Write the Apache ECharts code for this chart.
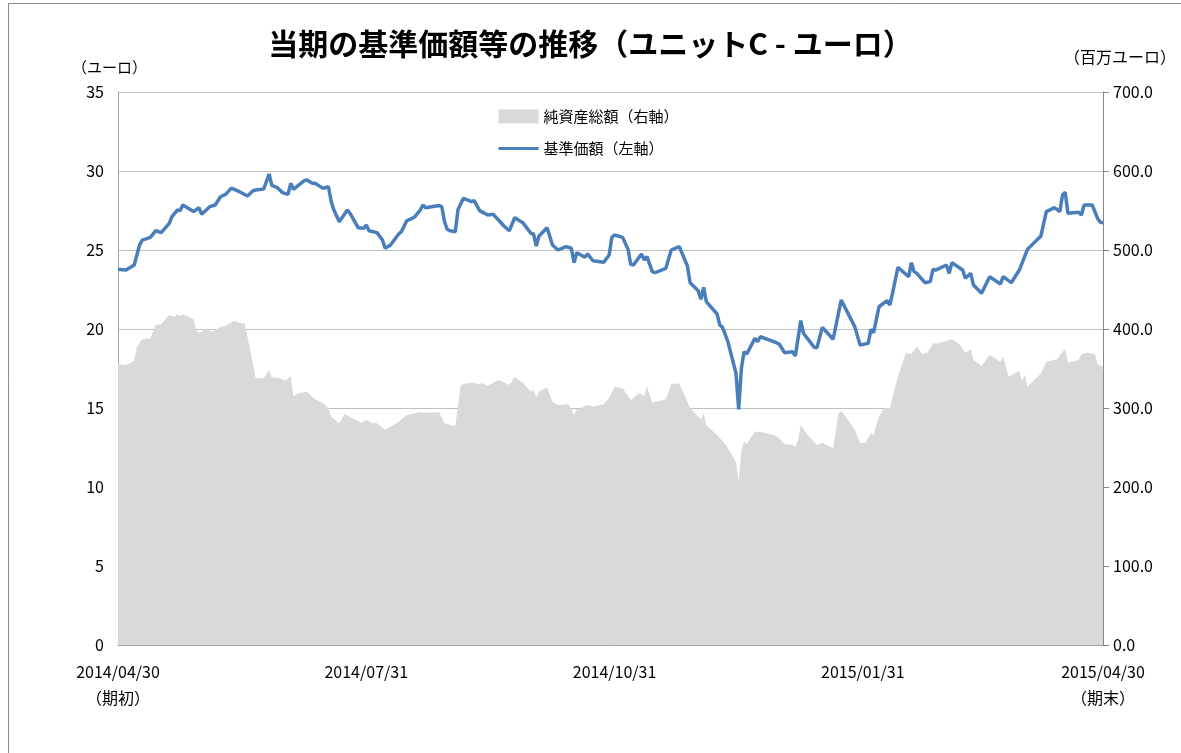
<!DOCTYPE html>
<html>
<head>
<meta charset="utf-8">
<title>当期の基準価額等の推移</title>
<script src="https://cdn.jsdelivr.net/npm/echarts@6/dist/echarts.min.js"></script>
<style>
  html, body { margin: 0; padding: 0; background: #fff; }
  #chart { width: 1181px; height: 753px; }
</style>
</head>
<body>
<div id="chart"></div>
<script>
// 基準価額（左軸）
var navDates = [
  '2014/04/30','2014/05/03','2014/05/06','2014/05/08','2014/05/09','2014/05/12','2014/05/14','2014/05/16','2014/05/19','2014/05/20','2014/05/22','2014/05/23','2014/05/24','2014/05/28','2014/05/30','2014/05/31',
  '2014/06/03','2014/06/05','2014/06/07','2014/06/09','2014/06/11','2014/06/14','2014/06/17','2014/06/19','2014/06/20','2014/06/23','2014/06/25','2014/06/26','2014/06/28','2014/06/30',
  '2014/07/02','2014/07/03','2014/07/04','2014/07/08','2014/07/09','2014/07/11','2014/07/12','2014/07/15','2014/07/17','2014/07/18','2014/07/19','2014/07/21','2014/07/24','2014/07/25','2014/07/28','2014/07/30','2014/07/31',
  '2014/08/01','2014/08/04','2014/08/06','2014/08/07','2014/08/09','2014/08/12','2014/08/13','2014/08/15','2014/08/17','2014/08/18','2014/08/20','2014/08/21','2014/08/22','2014/08/27','2014/08/28','2014/08/29','2014/08/30','2014/08/31',
  '2014/09/02','2014/09/03','2014/09/05','2014/09/08','2014/09/09','2014/09/11','2014/09/14','2014/09/16','2014/09/18','2014/09/20','2014/09/22','2014/09/24','2014/09/27','2014/09/30',
  '2014/10/01','2014/10/02','2014/10/03','2014/10/06','2014/10/08','2014/10/10','2014/10/13','2014/10/15','2014/10/16','2014/10/17','2014/10/20','2014/10/21','2014/10/23','2014/10/27','2014/10/29','2014/10/30','2014/10/31',
  '2014/11/03','2014/11/05','2014/11/06','2014/11/07','2014/11/10','2014/11/11','2014/11/12','2014/11/14','2014/11/15','2014/11/19','2014/11/21','2014/11/24','2014/11/27','2014/11/28',
  '2014/12/01','2014/12/02','2014/12/03','2014/12/04','2014/12/08','2014/12/09','2014/12/10','2014/12/12','2014/12/15','2014/12/16','2014/12/17','2014/12/18','2014/12/19','2014/12/22','2014/12/23','2014/12/24','2014/12/29','2014/12/31',
  '2015/01/02','2015/01/05','2015/01/06','2015/01/08','2015/01/09','2015/01/13','2015/01/14','2015/01/16','2015/01/20','2015/01/23','2015/01/28','2015/01/30',
  '2015/02/02','2015/02/03','2015/02/04','2015/02/06','2015/02/09','2015/02/10','2015/02/11','2015/02/13','2015/02/17','2015/02/18','2015/02/19','2015/02/20','2015/02/23','2015/02/25','2015/02/26','2015/02/27',
  '2015/03/03','2015/03/04','2015/03/05','2015/03/09','2015/03/10','2015/03/12','2015/03/13','2015/03/16','2015/03/19','2015/03/23','2015/03/24','2015/03/27','2015/03/30',
  '2015/04/02','2015/04/07','2015/04/09','2015/04/12','2015/04/14','2015/04/15','2015/04/16','2015/04/17','2015/04/21','2015/04/22','2015/04/23','2015/04/26','2015/04/28','2015/04/29','2015/04/30'
];
var navValues = [
  23.78, 23.73, 24.05, 25.32, 25.63, 25.8, 26.22, 26.1, 26.69, 27.11, 27.53, 27.49, 27.85, 27.43, 27.68, 27.26,
  27.74, 27.85, 28.37, 28.54, 28.92, 28.69, 28.42, 28.75, 28.8, 28.86, 29.81, 29.09, 28.95, 28.62,
  28.52, 29.22, 28.84, 29.39, 29.43, 29.22, 29.22, 28.9, 29.0, 28.06, 27.53, 26.79, 27.53, 27.32, 26.41, 26.37, 26.58,
  26.22, 26.1, 25.63, 25.11, 25.32, 26.01, 26.16, 26.85, 27.0, 27.11, 27.53, 27.85, 27.68, 27.81, 27.74, 26.79, 26.31, 26.22,
  26.16, 27.57, 28.27, 28.06, 28.12, 27.49, 27.22, 27.26, 26.9, 26.52, 26.22, 27.04, 26.73, 26.06,
  26.01, 25.25, 25.89, 26.41, 25.32, 25.0, 25.21, 25.11, 24.2, 24.83, 24.54, 24.75, 24.32, 24.22, 24.68, 25.8, 25.95,
  25.8, 25.04, 24.09, 24.05, 24.75, 24.37, 24.58, 23.63, 23.56, 23.84, 25.0, 25.21, 23.99, 22.93,
  22.42, 21.88, 22.64, 21.73, 20.95, 20.25, 20.1, 19.2, 17.2, 14.92, 17.51, 18.56, 18.42, 19.41, 19.2, 19.51, 19.2, 19.05,
  18.5, 18.56, 18.29, 20.53, 19.73, 18.84, 18.82, 20.1, 19.35, 21.84, 20.15, 18.99,
  19.09, 19.98, 19.77, 21.41, 21.79, 21.52, 22.26, 23.9, 23.31, 24.2, 23.63, 23.52, 22.93, 23.0, 23.78, 23.73,
  24.05, 23.52, 24.2, 23.73, 23.21, 23.52, 22.78, 22.26, 23.31, 22.85, 23.31, 22.93, 23.73,
  25.04, 25.89, 27.43, 27.68, 27.43, 28.48, 28.65, 27.32, 27.39, 27.22, 27.85, 27.85, 27.0, 26.75, 26.73
];

// 純資産総額（右軸、百万ユーロ）
var assetDates = [
  '2014/04/30','2014/05/03','2014/05/06','2014/05/07','2014/05/09','2014/05/12','2014/05/14','2014/05/16','2014/05/19','2014/05/21','2014/05/22','2014/05/23','2014/05/24','2014/05/28','2014/05/29','2014/05/30',
  '2014/06/02','2014/06/04','2014/06/07','2014/06/09','2014/06/12','2014/06/14','2014/06/16','2014/06/18','2014/06/20','2014/06/23','2014/06/25','2014/06/26','2014/06/29',
  '2014/07/01','2014/07/03','2014/07/04','2014/07/06','2014/07/09','2014/07/12','2014/07/15','2014/07/17','2014/07/18','2014/07/21','2014/07/23','2014/07/29','2014/07/31',
  '2014/08/02','2014/08/04','2014/08/07','2014/08/12','2014/08/15','2014/08/19','2014/08/20','2014/08/21','2014/08/27','2014/08/29','2014/08/31',
  '2014/09/02','2014/09/04','2014/09/06','2014/09/09','2014/09/10','2014/09/12','2014/09/14','2014/09/18','2014/09/22','2014/09/24','2014/09/27','2014/09/30',
  '2014/10/01','2014/10/02','2014/10/03','2014/10/06','2014/10/08','2014/10/10','2014/10/14','2014/10/16','2014/10/17','2014/10/21','2014/10/23','2014/10/27','2014/10/29','2014/10/30','2014/10/31',
  '2014/11/03','2014/11/06','2014/11/09','2014/11/11','2014/11/12','2014/11/14','2014/11/17','2014/11/19','2014/11/21','2014/11/24','2014/11/28',
  '2014/12/02','2014/12/03','2014/12/04','2014/12/08','2014/12/11','2014/12/15','2014/12/16','2014/12/17','2014/12/18','2014/12/19','2014/12/22','2014/12/24','2014/12/29','2014/12/31',
  '2015/01/02','2015/01/05','2015/01/06','2015/01/07','2015/01/08','2015/01/10','2015/01/14','2015/01/16','2015/01/20','2015/01/22','2015/01/23','2015/01/28','2015/01/30',
  '2015/02/01','2015/02/03','2015/02/04','2015/02/06','2015/02/08','2015/02/10','2015/02/11','2015/02/13','2015/02/16','2015/02/18','2015/02/20','2015/02/22','2015/02/24','2015/02/26','2015/02/28',
  '2015/03/02','2015/03/04','2015/03/05','2015/03/08','2015/03/10','2015/03/12','2015/03/13','2015/03/16','2015/03/19','2015/03/23','2015/03/24','2015/03/25','2015/03/26','2015/03/30','2015/03/31',
  '2015/04/01','2015/04/02','2015/04/07','2015/04/09','2015/04/13','2015/04/15','2015/04/16','2015/04/17','2015/04/21','2015/04/22','2015/04/24','2015/04/27','2015/04/28','2015/04/30'
];
var assetValues = [
  355.7, 354.4, 359.5, 377.6, 387.3, 388.2, 405.1, 405.9, 417.7, 415.6, 418.6, 416.5, 418.6, 412.3, 398.7, 394.5,
  400.9, 396.6, 402.9, 404.2, 410.5, 408.0, 406.3, 373.4, 337.6, 337.6, 348.1, 338.9, 337.6,
  334.6, 340.5, 315.2, 318.6, 320.6, 311.0, 305.9, 299.6, 289.0, 280.6, 292.4, 281.4, 284.8,
  281.4, 280.6, 272.2, 282.6, 291.1, 294.1, 295.3, 294.1, 294.6, 280.6, 278.5,
  277.6, 329.1, 331.2, 332.0, 330.0, 331.2, 328.2, 335.4, 329.1, 338.9, 332.0, 320.6,
  322.8, 313.5, 320.6, 326.2, 308.0, 303.8, 304.7, 291.1, 298.4, 303.8, 301.6, 304.7, 312.3, 320.0, 327.0,
  324.9, 310.1, 318.6, 315.2, 327.0, 306.7, 309.3, 311.0, 330.4, 331.2, 299.6,
  285.7, 293.3, 278.5, 265.8, 254.4, 232.0, 206.7, 246.8, 257.3, 254.4, 270.0, 270.0, 265.8, 261.6,
  254.4, 253.2, 250.2, 259.5, 278.5, 268.0, 253.2, 256.0, 249.0, 293.3, 296.6, 273.0, 255.3,
  256.0, 268.0, 265.8, 289.9, 299.6, 299.6, 314.3, 339.6, 370.0, 368.4, 377.6, 368.4, 370.0, 381.9, 381.9,
  383.9, 386.1, 387.3, 379.7, 370.0, 374.3, 360.8, 353.2, 367.1, 358.6, 364.9, 352.3, 339.6, 347.2, 334.6,
  341.8, 327.0, 343.9, 358.6, 361.6, 371.3, 374.3, 357.3, 360.8, 368.0, 370.0, 368.4, 355.7, 352.3
];

var labelDates = ['2014/04/30', '2014/07/31', '2014/10/31', '2015/01/31', '2015/04/30'];
var leftTicks = [0, 35, 5];    // min, max, interval
var rightTicks = [0, 700, 100];

// 毎日のカテゴリ（期初〜期末）
function pad(n) { return n < 10 ? '0' + n : '' + n; }
var allDays = [];
for (var t = Date.UTC(2014, 3, 30); t <= Date.UTC(2015, 3, 30); t += 86400000) {
  var d = new Date(t);
  allDays.push(d.getUTCFullYear() + '/' + pad(d.getUTCMonth() + 1) + '/' + pad(d.getUTCDate()));
}

function pairs(dates, vals) {
  return dates.map(function (dt, i) { return [dt, vals[i]]; });
}

var FONT = "'Noto Sans CJK JP', 'Noto Sans', sans-serif";
var myChart = echarts.init(document.getElementById('chart'));

var option = {
  animation: false,
  textStyle: { fontFamily: FONT },
  title: {
    text: '当期の基準価額等の推移（ユニットC - ユーロ）',
    left: 'center',
    top: 24,
    textStyle: { fontSize: 30, fontWeight: 'bold', color: '#000', fontFamily: FONT }
  },
  legend: {
    orient: 'vertical',
    left: 497,
    top: 109,
    padding: 0,
    itemWidth: 40,
    itemHeight: 14,
    itemGap: 17,
    textStyle: { fontSize: 15, color: '#000', fontFamily: FONT },
    data: [
      { name: '純資産総額（右軸）', icon: 'rect' },
      { name: '基準価額（左軸）', itemStyle: { opacity: 0 }, lineStyle: { width: 3 } }
    ]
  },
  grid: { left: 118, right: 78, top: 92, bottom: 108 },
  graphic: [
    { type: 'rect', shape: { x: 8.5, y: 3.5, width: 1300, height: 900 },
      style: { fill: 'none', stroke: '#8c8c8c', lineWidth: 1 }, silent: true },
    { type: 'text', left: 72, top: 60,
      style: { text: '（ユーロ）', fontSize: 15, fill: '#000', fontFamily: FONT } },
    { type: 'text', left: 1064, top: 49,
      style: { text: '（百万ユーロ）', fontSize: 16, fill: '#000', fontFamily: FONT } }
  ],
  xAxis: {
    type: 'category',
    data: allDays,
    boundaryGap: false,
    axisLine: { lineStyle: { color: '#a6a6a6' } },
    axisTick: { show: false },
    splitLine: { show: false },
    axisLabel: {
      interval: function (idx, value) { return labelDates.indexOf(value) >= 0; },
      showMinLabel: true,
      showMaxLabel: true,
      margin: 14,
      fontSize: 16,
      lineHeight: 26,
      color: '#000',
      fontFamily: FONT,
      formatter: function (value) {
        if (value === labelDates[0]) return value + '\n（期初）';
        if (value === labelDates[labelDates.length - 1]) return value + '\n（期末）';
        return value;
      }
    }
  },
  yAxis: [
    {
      type: 'value',
      min: leftTicks[0], max: leftTicks[1], interval: leftTicks[2],
      position: 'left',
      axisLine: { show: true, lineStyle: { color: '#a6a6a6' } },
      axisTick: { show: false },
      axisLabel: { margin: 14, fontSize: 16, color: '#000', fontFamily: FONT },
      splitLine: { lineStyle: { color: '#c0c0c0', width: 1 } }
    },
    {
      type: 'value',
      min: rightTicks[0], max: rightTicks[1], interval: rightTicks[2],
      position: 'right',
      axisLine: { show: true, lineStyle: { color: '#868686' } },
      axisTick: { show: true, length: 6, lineStyle: { color: '#868686' } },
      axisLabel: {
        margin: 10, fontSize: 16, color: '#000', fontFamily: FONT,
        formatter: function (v) { return v.toFixed(1); }
      },
      splitLine: { show: false }
    }
  ],
  series: [
    {
      name: '純資産総額（右軸）',
      type: 'line',
      yAxisIndex: 1,
      data: pairs(assetDates, assetValues),
      symbol: 'none',
      lineStyle: { width: 0, color: '#d9d9d9' },
      itemStyle: { color: '#d9d9d9' },
      areaStyle: { color: '#d9d9d9', opacity: 1 },
      z: 1
    },
    {
      name: '基準価額（左軸）',
      type: 'line',
      yAxisIndex: 0,
      data: pairs(navDates, navValues),
      symbol: 'none',
      lineStyle: { width: 3.5, color: '#4a7ebb' },
      itemStyle: { color: '#4a7ebb' },
      z: 3
    }
  ]
};

myChart.setOption(option);
window.addEventListener('resize', function () {
  myChart.resize();
});
</script>
</body>
</html>
